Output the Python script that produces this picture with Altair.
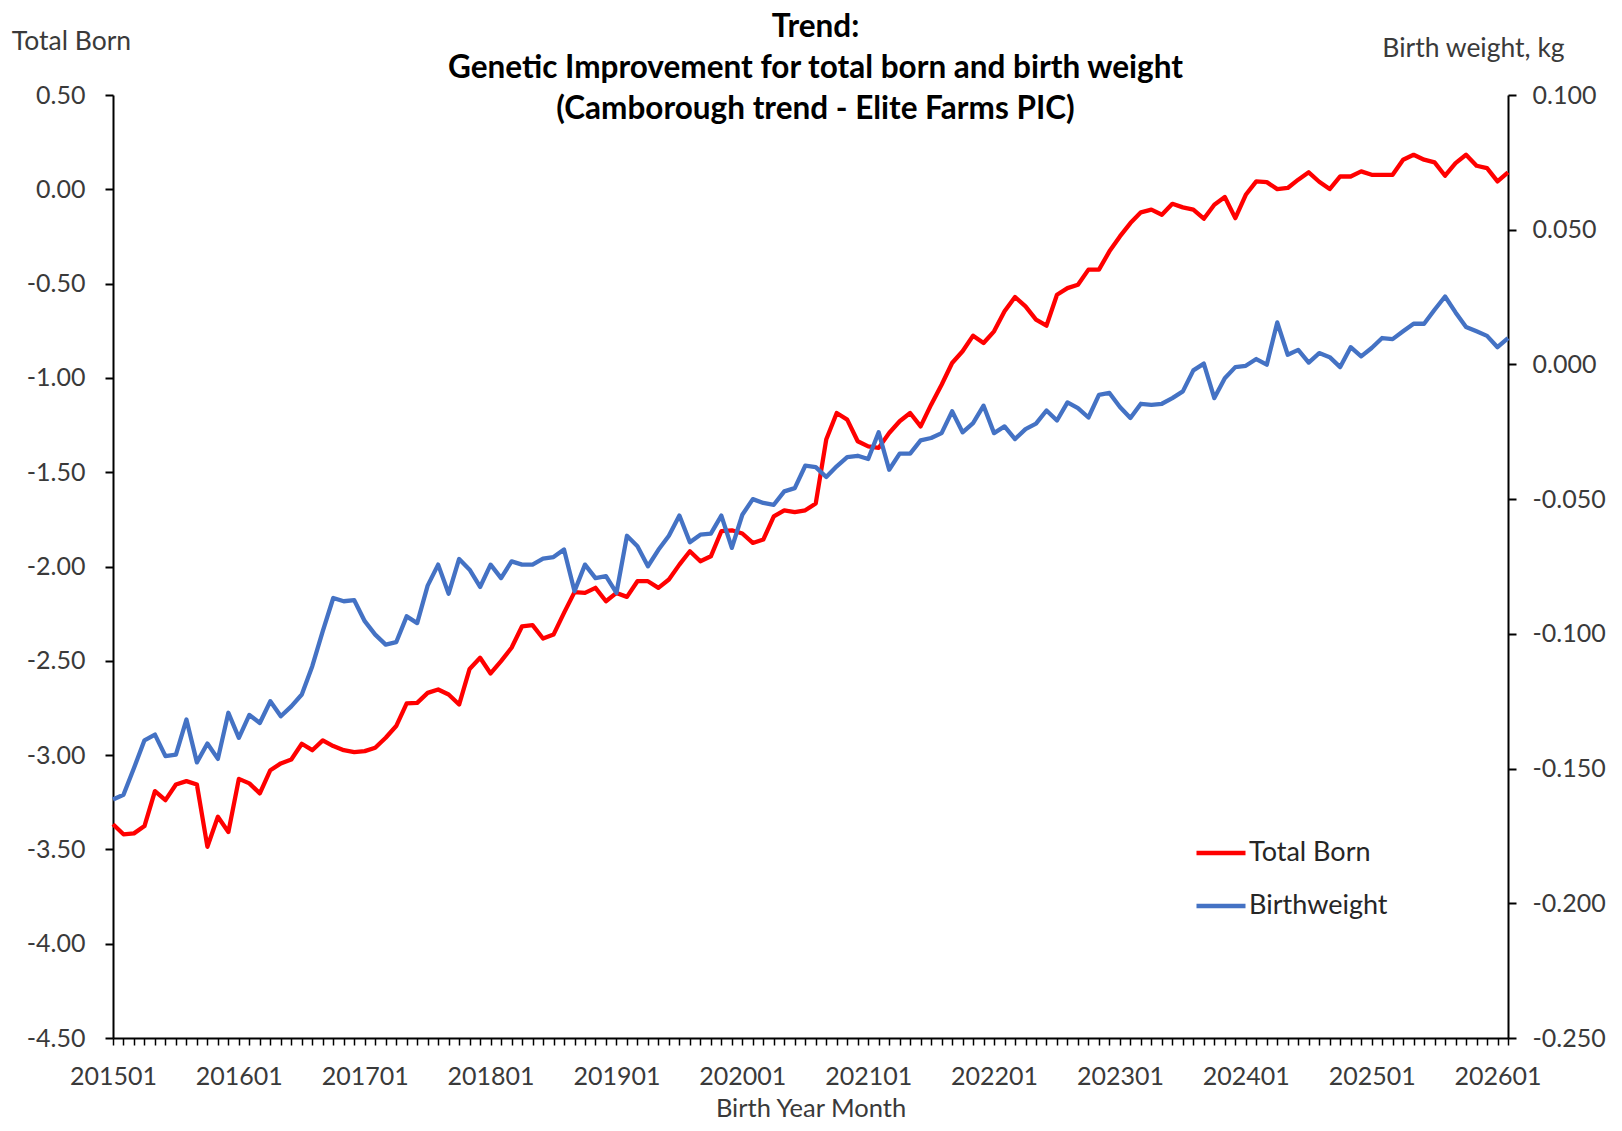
import altair as alt
import pandas as pd

# Birth year-month categories, 201501 .. 202602
months = [f"{y}{m:02d}" for y in range(2015, 2027) for m in range(1, 13)][:134]

total_born = [
    -3.367, -3.420, -3.415, -3.376, -3.191, -3.239, -3.156, -3.138, -3.156, -3.486,
    -3.327, -3.408, -3.126, -3.150, -3.203, -3.080, -3.044, -3.023, -2.940, -2.974,
    -2.922, -2.952, -2.974, -2.984, -2.979, -2.961, -2.908, -2.846, -2.726, -2.723,
    -2.670, -2.652, -2.679, -2.732, -2.543, -2.484, -2.567, -2.502, -2.431, -2.317,
    -2.311, -2.382, -2.361, -2.246, -2.136, -2.140, -2.113, -2.184, -2.140, -2.161,
    -2.078, -2.078, -2.113, -2.069, -1.990, -1.919, -1.972, -1.946, -1.813, -1.808,
    -1.825, -1.875, -1.857, -1.734, -1.702, -1.712, -1.702, -1.666, -1.327, -1.186,
    -1.221, -1.336, -1.363, -1.371, -1.292, -1.230, -1.186, -1.257, -1.142, -1.036,
    -0.921, -0.859, -0.776, -0.815, -0.753, -0.647, -0.571, -0.621, -0.691, -0.723,
    -0.559, -0.524, -0.506, -0.426, -0.426, -0.329, -0.250, -0.179, -0.122, -0.108,
    -0.135, -0.077, -0.096, -0.108, -0.156, -0.082, -0.041, -0.153, -0.029, 0.042,
    0.038, 0.001, 0.007, 0.051, 0.090, 0.040, 0.001, 0.068, 0.068, 0.095,
    0.077, 0.077, 0.077, 0.157, 0.183, 0.157, 0.143, 0.072, 0.139, 0.183,
    0.125, 0.112, 0.042, 0.090,
]

birthweight = [
    -0.1615, -0.1597, -0.1498, -0.1395, -0.1374, -0.1454, -0.1448, -0.1318, -0.1477, -0.1407,
    -0.1464, -0.1293, -0.1386, -0.1301, -0.1331, -0.1250, -0.1306, -0.1269, -0.1225, -0.1120,
    -0.0990, -0.0867, -0.0879, -0.0875, -0.0953, -0.1003, -0.1040, -0.1031, -0.0935, -0.0960,
    -0.0821, -0.0743, -0.0851, -0.0722, -0.0762, -0.0826, -0.0743, -0.0793, -0.0731, -0.0743,
    -0.0743, -0.0721, -0.0715, -0.0687, -0.0842, -0.0743, -0.0793, -0.0786, -0.0848, -0.0636,
    -0.0675, -0.0749, -0.0688, -0.0636, -0.0561, -0.0660, -0.0632, -0.0628, -0.0561, -0.0681,
    -0.0558, -0.0500, -0.0514, -0.0521, -0.0471, -0.0459, -0.0376, -0.0381, -0.0418, -0.0378,
    -0.0344, -0.0339, -0.0351, -0.0252, -0.0391, -0.0331, -0.0331, -0.0282, -0.0273, -0.0255,
    -0.0174, -0.0252, -0.0218, -0.0153, -0.0255, -0.0230, -0.0277, -0.0240, -0.0220, -0.0171,
    -0.0208, -0.0141, -0.0162, -0.0197, -0.0113, -0.0106, -0.0158, -0.0199, -0.0146, -0.0150,
    -0.0146, -0.0125, -0.0100, -0.0022, 0.0003, -0.0125, -0.0051, -0.0010, -0.0005, 0.0020,
    -0.0001, 0.0156, 0.0036, 0.0054, 0.0007, 0.0042, 0.0027, -0.0010, 0.0064, 0.0030,
    0.0061, 0.0098, 0.0094, 0.0123, 0.0151, 0.0151, 0.0203, 0.0252, 0.0193, 0.0139,
    0.0123, 0.0106, 0.0064, 0.0098,
]

left_ticks = [-4.5, -4.0, -3.5, -3.0, -2.5, -2.0, -1.5, -1.0, -0.5, 0.0, 0.5]
right_ticks = [-0.25, -0.2, -0.15, -0.1, -0.05, 0.0, 0.05, 0.1]
series_names = ["Total Born", "Birthweight"]
series_colors = ["#FF0000", "#4472C4"]

df = pd.DataFrame({"month": months, "total_born": total_born, "birthweight": birthweight})

FONT = "Lato"
TXT = "#262626"
LAB = "#3a3a3a"

x_enc = alt.X(
    "month:O",
    sort=None,
    scale=alt.Scale(padding=0),
    axis=alt.Axis(
        title="Birth Year Month",
        titleY=70,
        titleBaseline="middle",
        titleFontSize=25.5,
        titleFontWeight="normal",
        titleColor=LAB,
        titleFont=FONT,
        labelAngle=0,
        labelOverlap=False,
        labelExpr="substring(datum.label, 4, 6) == '01' ? datum.label : ''",
        labelFontSize=25,
        labelFont=FONT,
        labelColor=LAB,
        labelPadding=19,
        tickSize=7,
        tickWidth=1.5,
        tickColor="black",
        domainColor="black",
        domainWidth=2,
        grid=False,
    ),
)

color_scale = alt.Scale(domain=series_names, range=series_colors)
legend = alt.Legend(
    title=None,
    orient="none",
    legendX=1081,
    legendY=731,
    symbolType="stroke",
    symbolSize=2401,
    symbolStrokeWidth=4.5,
    labelFontSize=27,
    labelFont=FONT,
    labelColor=TXT,
    labelOffset=1,
    rowPadding=13,
    padding=0,
)


def yaxis(orient, ticks, fmt, title, tx, ty):
    return alt.Axis(
        orient=orient,
        values=ticks,
        format=fmt,
        labelExpr="replace(datum.label, '\u2212', '-')",
        title=title,
        titleAngle=0,
        titleX=tx,
        titleY=ty,
        titleAlign="center",
        titleBaseline="middle",
        titleFontSize=26.5,
        titleFontWeight="normal",
        titleColor=LAB,
        titleFont=FONT,
        labelFontSize=25,
        labelFont=FONT,
        labelColor=LAB,
        labelPadding=20 if orient == "left" else 16,
        tickSize=8,
        tickWidth=2,
        tickColor="black",
        domainColor="black",
        domainWidth=2,
        grid=False,
    )


left = (
    alt.Chart(df)
    .transform_calculate(series=f"'{series_names[0]}'")
    .mark_line(strokeWidth=4.3, strokeJoin="round")
    .encode(
        x=x_enc,
        y=alt.Y(
            "total_born:Q",
            scale=alt.Scale(domain=[-4.5, 0.5], nice=False, zero=False),
            axis=yaxis("left", left_ticks, ".2f", "Total Born", -42, -54),
        ),
        color=alt.Color("series:N", scale=color_scale, legend=legend),
    )
)

right = (
    alt.Chart(df)
    .transform_calculate(series=f"'{series_names[1]}'")
    .mark_line(strokeWidth=4.3, strokeJoin="round")
    .encode(
        x=x_enc,
        y=alt.Y(
            "birthweight:Q",
            scale=alt.Scale(domain=[-0.25, 0.1], nice=False, zero=False),
            axis=yaxis("right", right_ticks, ".3f", "Birth weight, kg", -35, -47),
        ),
        color=alt.Color("series:N", scale=color_scale, legend=legend),
    )
)

chart = (
    alt.layer(left, right)
    .resolve_scale(y="independent")
    .properties(
        width=1395,
        height=943,
        background="white",
        autosize=alt.AutoSizeParams(type="none"),
        padding={"left": 105, "top": 87, "right": 106, "bottom": 85},
        title=alt.TitleParams(
            text=[
                "Trend:",
                "Genetic Improvement for total born and birth weight",
                "(Camborough trend - Elite Farms PIC)",
            ],
            font=FONT,
            fontSize=31.5,
            fontWeight="bold",
            color="black",
            lineHeight=41,
            anchor="middle",
            dx=5,
            dy=101,
        ),
    )
    .configure_view(stroke="transparent", strokeWidth=0)
)

chart.save("out.html", embed_options={"renderer": "svg", "actions": False})
